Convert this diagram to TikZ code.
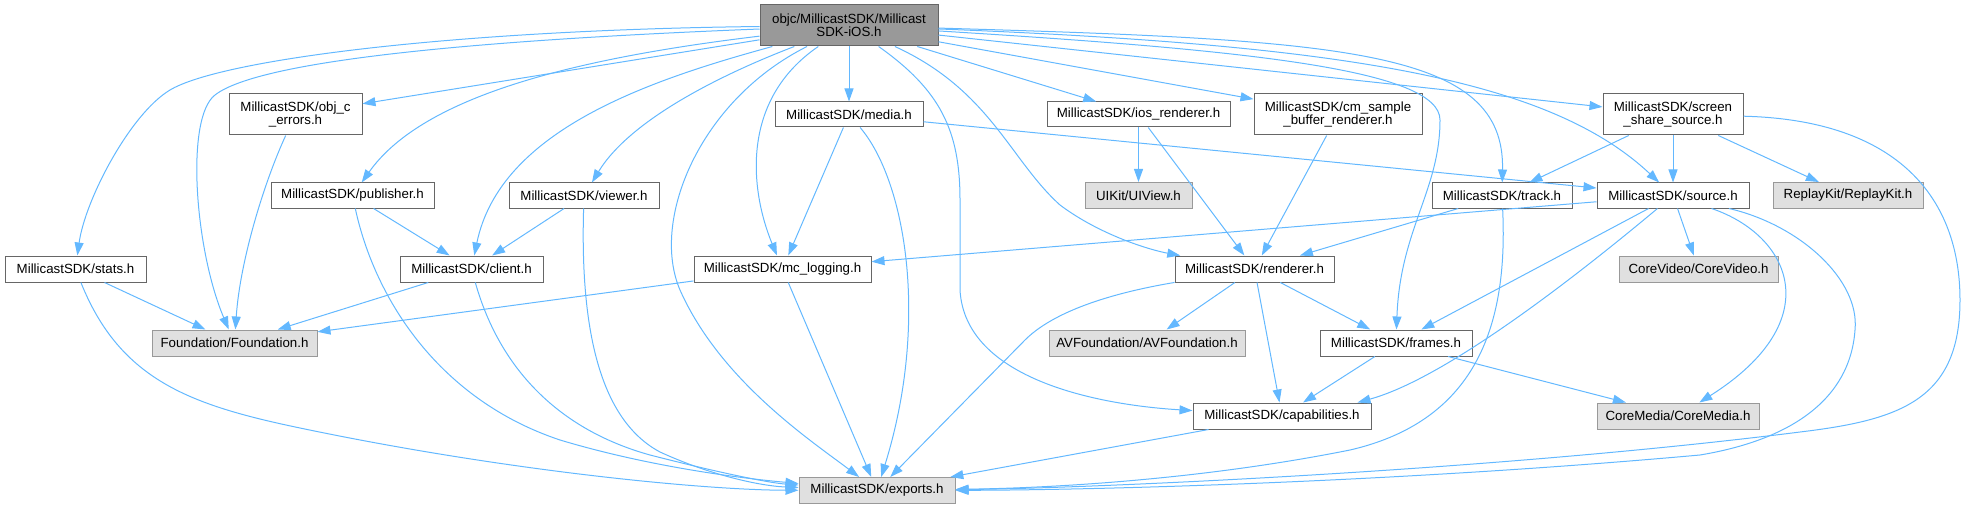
\documentclass[tikz,border=0pt]{standalone}
\usepackage{fontspec}
\setmainfont{Liberation Sans}
\usetikzlibrary{arrows.meta}
\definecolor{edgeblue}{HTML}{63B8FF}
\definecolor{boxline}{HTML}{666666}
\definecolor{extline}{HTML}{999999}
\definecolor{extfill}{HTML}{E0E0E0}
\definecolor{rootfill}{HTML}{999999}
\newcommand\doxfont{\fontsize{13.3}{13.3}\selectfont}
\tikzset{
  box/.style={draw=boxline, fill=white, line width=1pt, inner sep=0pt, align=center, font=\doxfont},
  extbox/.style={box, draw=extline, fill=extfill},
  rootbox/.style={box, fill=rootfill},
  dep/.style={draw=edgeblue, line width=1pt, -{Triangle[length=13pt,width=9pt]}}
}
\begin{document}
\begin{tikzpicture}[x=1pt,y=-1pt]
\useasboundingbox (0,0) rectangle (1966,508);
% include graph, pixel grid 1966 x 508
\node[rootbox, minimum width=178pt, minimum height=41pt] (root) at (849,25.5) {objc/MillicastSDK/Millicast\\SDK-iOS.h};
\foreach \n/\x/\y/\w/\h/\t in {
  objc/295.5/114.5/133/41/{MillicastSDK/obj\_c\\\_errors.h},
  media/849/114.5/148/25/{MillicastSDK/media.h},
  iosr/1138.5/114.5/183/25/{MillicastSDK/ios\_renderer.h},
  cms/1338/114.5/168/41/{MillicastSDK/cm\_sample\\\_buffer\_renderer.h},
  ssrc/1673/114.5/140/41/{MillicastSDK/screen\\\_share\_source.h},
  publisher/352.5/195.5/163/25/{MillicastSDK/publisher.h},
  viewer/584/195.5/150/25/{MillicastSDK/viewer.h},
  track/1502/195.5/140/25/{MillicastSDK/track.h},
  source/1673/195.5/152/25/{MillicastSDK/source.h},
  stats/75.5/269/141/26/{MillicastSDK/stats.h},
  client/471.5/269/143/26/{MillicastSDK/client.h},
  mclog/782.5/269/177/26/{MillicastSDK/mc\_logging.h},
  renderer/1254.5/269/159/26/{MillicastSDK/renderer.h},
  frames/1396/343/152/26/{MillicastSDK/frames.h},
  caps/1282/416/178/26/{MillicastSDK/capabilities.h}}
  \node[box, minimum width=\w pt, minimum height=\h pt] (\n) at (\x,\y) {\t};
\foreach \n/\x/\y/\w/\t in {
  uiview/1138.5/195.5/107/{UIKit/UIView.h},
  replay/1848/195.5/150/{ReplayKit/ReplayKit.h},
  corevideo/1698.5/269/159/{CoreVideo/CoreVideo.h},
  foundation/234.5/343/165/{Foundation/Foundation.h},
  avf/1147/343/196/{AVFoundation/AVFoundation.h},
  coremedia/1678/416/162/{CoreMedia/CoreMedia.h},
  exports/877/490.5/156/{MillicastSDK/exports.h}}
  \node[extbox, minimum width=\w pt, minimum height=26pt] (\n) at (\x,\y) {\t};
% straight edges
\foreach \a/\b in {root/objc, root/media, root/iosr, root/cms, root/ssrc,
  publisher/client, viewer/client, stats/foundation, client/foundation,
  mclog/foundation, mclog/exports, media/mclog, media/source,
  iosr/uiview, iosr/renderer, cms/renderer, ssrc/track, ssrc/source, ssrc/replay,
  track/renderer, source/corevideo, source/frames, source/mclog,
  renderer/avf, renderer/frames, renderer/caps, frames/caps, frames/coremedia, caps/exports}
  \draw[dep] (\a) -- (\b);
% curved edges from the root
\draw[dep] (root) .. controls (450,30) and (220,60) .. (170,90) .. controls (130,114) and (85,200) .. (stats);
\draw[dep] (root) .. controls (480,40) and (260,60) .. (215,95) .. controls (185,118) and (195,250) .. (foundation);
\draw[dep] (root) .. controls (560,60) and (420,100) .. (publisher);
\draw[dep] (root) .. controls (650,80) and (500,130) .. (client);
\draw[dep] (root) .. controls (720,75) and (630,120) .. (viewer);
\draw[dep] (root) .. controls (700,100) and (650,220) .. (680,290) .. controls (720,380) and (810,440) .. (exports);
\draw[dep] (root) .. controls (740,100) and (750,190) .. (mclog);
\draw[dep] (root) .. controls (940,90) and (960,130) .. (960,200) -- (960,290) .. controls (965,380) and (1100,405) .. (caps);
\draw[dep] (root) .. controls (990,90) and (1010,160) .. (1060,205) .. controls (1100,235) and (1150,250) .. (renderer);
\draw[dep] (root) .. controls (1250,50) and (1440,70) .. (1440,120) .. controls (1440,190) and (1400,230) .. (frames);
\draw[dep] (root) .. controls (1350,40) and (1505,50) .. (track);
\draw[dep] (root) .. controls (1350,45) and (1550,80) .. (source);
% other curved edges
\draw[dep] (objc) .. controls (265,180) and (240,260) .. (foundation);
\draw[dep] (publisher) .. controls (375,300) and (440,400) .. (560,440) .. controls (660,470) and (760,480) .. (exports);
\draw[dep] (client) .. controls (500,370) and (560,430) .. (650,455) .. controls (720,473) and (770,483) .. (exports);
\draw[dep] (viewer) .. controls (580,330) and (600,420) .. (660,452) .. controls (710,475) and (760,486) .. (exports);
\draw[dep] (stats) .. controls (120,380) and (190,405) .. (300,428) .. controls (500,470) and (700,490) .. (exports);
\draw[dep] (media) .. controls (905,180) and (930,320) .. (exports);
\draw[dep] (renderer) .. controls (1100,295) and (1050,315) .. (1025,340) -- (exports);
\draw[dep] (ssrc) .. controls (1900,120) and (1960,200) .. (1960,300) .. controls (1960,400) and (1900,420) .. (1800,432) .. controls (1500,470) and (1100,488) .. (exports);
\draw[dep] (track) .. controls (1508,320) and (1480,420) .. (1350,450) .. controls (1200,480) and (1050,488) .. (exports);
\draw[dep] (source) .. controls (1800,225) and (1860,280) .. (1855,330) .. controls (1850,400) and (1790,440) .. (1700,455) .. controls (1400,482) and (1100,490) .. (exports);
\draw[dep] (source) .. controls (1790,235) and (1830,320) .. (coremedia);
\draw[dep] (source) .. controls (1560,290) and (1440,380) .. ([xshift=-14pt]caps.north east);
\end{tikzpicture}
\end{document}
